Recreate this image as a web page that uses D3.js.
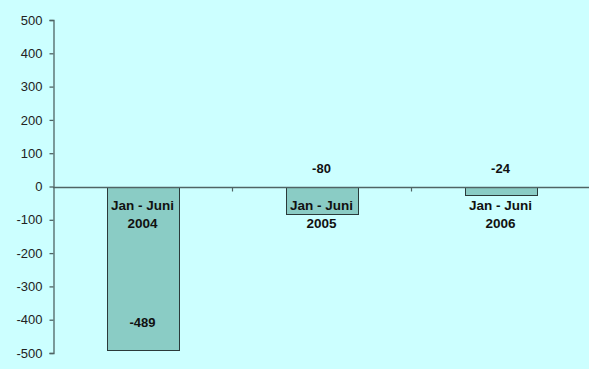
<!DOCTYPE html>
<html>
<head>
<meta charset="utf-8">
<script src="https://cdn.jsdelivr.net/npm/d3@7/dist/d3.min.js"></script>
<style>
  html, body { margin: 0; padding: 0; background: #CCFFFF; }
  svg { display: block; font-family: "Liberation Sans", Arial, sans-serif; }
</style>
</head>
<body>
<svg id="chart" width="589" height="369"></svg>
<script>
// Half-year results, Jan - Juni
const periods = ["2004", "2005", "2006"];
const periodPrefix = "Jan - Juni";
const values = [-489, -80, -24];
const yTicks = [500, 400, 300, 200, 100, 0, -100, -200, -300, -400, -500];

const svg = d3.select("#chart");
const W = 589, H = 369;
const margin = { left: 53, right: -1, top: 20, bottom: 16 };

svg.append("rect").attr("width", W).attr("height", H).attr("fill", "#CCFFFF");

const x = d3.scaleBand()
  .domain(periods)
  .range([margin.left, W - margin.right])
  .paddingInner(0.6)
  .paddingOuter(0.3);

const band = d3.scaleBand()
  .domain(periods)
  .range([margin.left, W - margin.right]);

const y = d3.scaleLinear()
  .domain([-500, 500])
  .range([H - margin.bottom, margin.top]);

// bars
svg.append("g").selectAll("rect")
  .data(values)
  .join("rect")
  .attr("x", (d, i) => Math.round(x(periods[i])) + 0.5)
  .attr("y", d => Math.round(y(0)) + 0.5)
  .attr("width", Math.round(x.bandwidth()))
  .attr("height", d => Math.round(y(d) - y(0)))
  .attr("fill", "#8ACCC5")
  .attr("stroke", "#2a3a3a")
  .attr("stroke-width", 1);

// y axis (plain hyphen for negatives)
const yAxis = d3.axisLeft(y)
  .tickValues(yTicks)
  .tickFormat(d => String(d))
  .tickSize(4)
  .tickPadding(7);
const gy = svg.append("g")
  .attr("transform", `translate(${margin.left + 0.5},0)`)
  .call(yAxis);
gy.select(".domain").attr("stroke", "#4f6464").attr("stroke-width", 1.3);
gy.selectAll(".tick line").attr("stroke", "#4f6464").attr("stroke-width", 1.3);
gy.selectAll(".tick text")
  .attr("fill", "#222")
  .attr("font-size", "13px")
  .attr("font-family", "Liberation Sans, Arial, sans-serif");

// zero line with category separators
const z0 = Math.round(y(0)) + 0.5;
svg.append("line")
  .attr("x1", margin.left).attr("x2", W)
  .attr("y1", z0).attr("y2", z0)
  .attr("stroke", "#4f6464").attr("stroke-width", 1.3);
svg.append("g").selectAll("line")
  .data(periods.slice(1))
  .join("line")
  .attr("x1", d => Math.round(band(d)) + 0.5)
  .attr("x2", d => Math.round(band(d)) + 0.5)
  .attr("y1", z0).attr("y2", z0 + 4)
  .attr("stroke", "#4f6464").attr("stroke-width", 1.2);

// category labels
const cat = svg.append("g")
  .attr("font-size", "13.5px")
  .attr("font-weight", "bold")
  .attr("fill", "#111")
  .attr("text-anchor", "middle");
periods.forEach(p => {
  const cx = x(p) + x.bandwidth() / 2;
  cat.append("text").attr("x", cx).attr("y", y(0) + 23.5).text(periodPrefix);
  cat.append("text").attr("x", cx).attr("y", y(0) + 41.5).text(p);
});

// value labels
svg.append("g")
  .attr("font-size", "13px")
  .attr("font-weight", "bold")
  .attr("fill", "#111")
  .attr("text-anchor", "middle")
  .selectAll("text")
  .data(values)
  .join("text")
  .attr("x", (d, i) => x(periods[i]) + x.bandwidth() / 2)
  .attr("y", d => (y(d) - y(0) > 60) ? y(d) - 22 : y(0) - 14)
  .text(d => d);
</script>
</body>
</html>
